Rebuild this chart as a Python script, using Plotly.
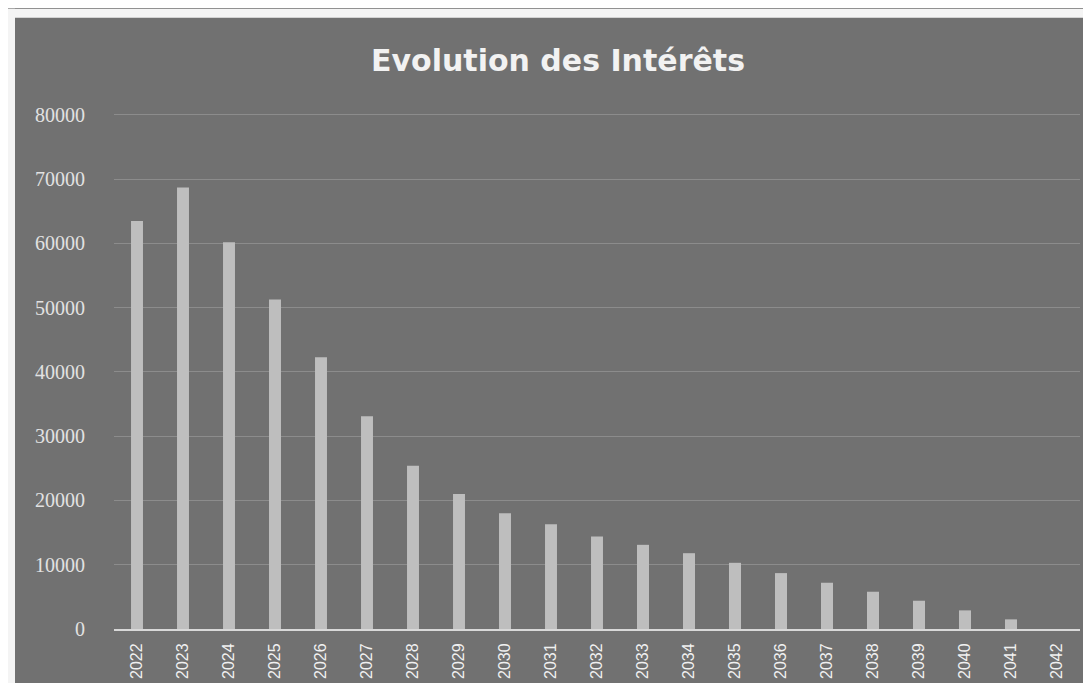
import plotly.graph_objects as go

years = [str(y) for y in range(2022, 2043)]
interets = [63500, 68700, 60200, 51300, 42300, 33100, 25400, 21000, 18000, 16300,
            14400, 13100, 11800, 10300, 8700, 7200, 5800, 4400, 2900, 1500, 0]
y_ticks = [0, 10000, 20000, 30000, 40000, 50000, 60000, 70000, 80000]
title_text = "Evolution des Intérêts"

W, H = 1091, 683
ML, MR, MT, MB = 106, 19, 103, 58
pw = W - ML - MR
ph = H - MT - MB
# 80000 sits at y=107 px, 0 at y=625 px
y_top = 80000 * (H - MB - MT) / (H - MB - 107)

bg = "#717171"

fig = go.Figure()
fig.add_trace(go.Bar(
    x=years, y=interets,
    marker=dict(color="#bebebe", line=dict(width=0)),
    width=0.26,
    hoverinfo="x+y",
))

# white scan margins at top and left
fig.add_shape(type="rect", xref="paper", yref="paper",
              x0=-ML / pw, x1=(W - ML) / pw, y0=(H - MB - 9) / ph, y1=(H - MB) / ph,
              fillcolor="#f4f4f4", line=dict(width=0), layer="below")
fig.add_shape(type="rect", xref="paper", yref="paper",
              x0=-ML / pw, x1=(-ML + 7) / pw, y0=-MB / ph, y1=(H - MB) / ph,
              fillcolor="#f4f4f4", line=dict(width=0), layer="below")

fig.update_layout(
    width=W, height=H,
    margin=dict(l=ML, r=MR, t=MT, b=MB),
    paper_bgcolor=bg, plot_bgcolor=bg,
    showlegend=False,
    bargap=0.74,
    title=dict(text="<b>" + title_text + "</b>", x=(550 / W), xanchor="center",
               y=1 - 52 / H, yanchor="middle",
               font=dict(family="DejaVu Sans", size=30, color="#f2f2f2")),
    xaxis=dict(
        type="category", tickangle=-90,
        tickfont=dict(family="Liberation Sans", size=16, color="#f0f0f0"),
        showgrid=False, ticks="", showline=True, linecolor="#d8d8d8", linewidth=2,
        ticklabelstandoff=6,
    ),
    yaxis=dict(
        range=[0, y_top], tickvals=y_ticks,
        ticktext=[str(v) for v in y_ticks],
        tickfont=dict(family="Liberation Serif", size=20, color="#e2e2e2"),
        showgrid=True, gridcolor="#8c8c8c", gridwidth=1,
        zeroline=False, showline=False, ticks="",
        ticklabelstandoff=28,
    ),
)

fig.write_html("out.html")
